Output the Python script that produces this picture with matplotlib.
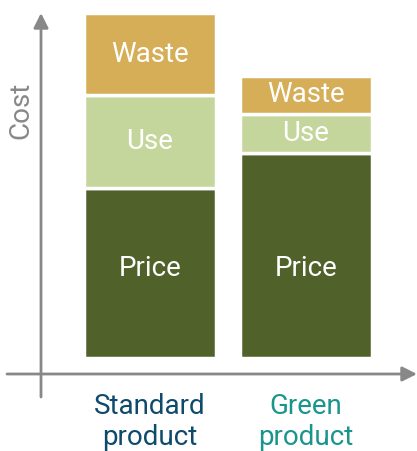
import numpy as np
import matplotlib
matplotlib.use("Agg")
import matplotlib.pyplot as plt
from matplotlib.transforms import ScaledTranslation

# Chart data (arbitrary cost units)
products = ["Standard\nproduct", "Green\nproduct"]
price = [17.0, 20.5]
use = [9.3, 3.9]
waste = [8.2, 3.8]

segment_names = ["Price", "Use", "Waste"]
segment_colors = ["#50622A", "#C4D69B", "#D6AE57"]
product_colors = ["#0E4A6C", "#1A958C"]
axis_grey = "#888888"


def main():
    plt.rcParams["font.family"] = ["Roboto", "DejaVu Sans"]

    fig = plt.figure(figsize=(4.17, 4.51), dpi=100)
    ax = fig.add_axes([0.0, 93 / 451, 1.0, 345 / 451])

    x = np.arange(len(products))
    width = 0.846
    bottom = np.zeros(len(products))
    stacks = [np.array(price), np.array(use), np.array(waste)]

    for name, values, color in zip(segment_names, stacks, segment_colors):
        ax.bar(x, values, width, bottom=bottom, color=color,
               edgecolor="white", linewidth=2.5)
        for i in range(len(products)):
            if name == "Price":
                # both price labels sit at the same height
                y = np.mean(stacks[0]) / 2 - 0.4
            else:
                y = bottom[i] + values[i] / 2
            ax.text(x[i], y, name, ha="center", va="center",
                    color="white", fontsize=20)
        bottom += values

    ax.set_xlim(-150 / 156, 267 / 156)
    ax.set_ylim(0, bottom.max())

    for side in ["top", "right", "left", "bottom"]:
        ax.spines[side].set_visible(False)
    ax.set_yticks([])
    ax.set_xticks(x)
    ax.set_xticklabels(products, fontsize=20, linespacing=1.2)
    # labels sit a little left of the bar centres
    for lbl, c, dx in zip(ax.get_xticklabels(), product_colors, [-4, -9]):
        lbl.set_color(c)
        lbl.set_transform(lbl.get_transform()
                          + ScaledTranslation(dx / 100, 0, fig.dpi_scale_trans))
    ax.tick_params(axis="x", length=0, pad=25)

    # Axis arrows
    arrow = dict(arrowstyle="-|>", color=axis_grey, lw=2, mutation_scale=22,
                 shrinkA=0, shrinkB=0)
    ax.annotate("", xy=(41 / 417, 1.0), xytext=(41 / 417, -39 / 345),
                xycoords="axes fraction", arrowprops=arrow, annotation_clip=False)
    ax.annotate("", xy=(1.0, -16 / 345), xytext=(7 / 417, -16 / 345),
                xycoords="axes fraction", arrowprops=arrow, annotation_clip=False)

    ax.text(21 / 417, 248 / 345, "Cost", rotation=90, ha="center", va="center",
            color=axis_grey, fontsize=20, transform=ax.transAxes)

    fig.savefig("out.png", dpi=100)


if __name__ == "__main__":
    main()
